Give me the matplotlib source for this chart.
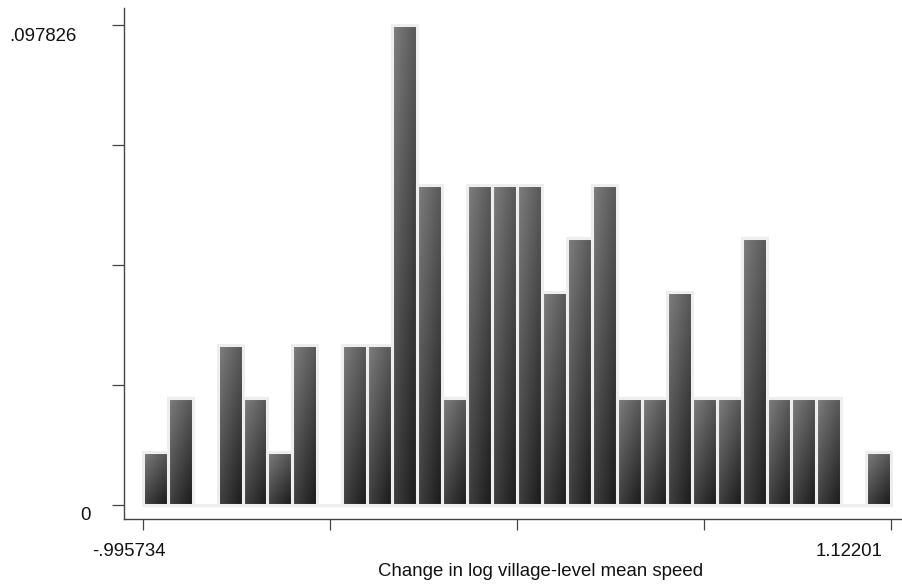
import numpy as np
import matplotlib
matplotlib.use('Agg')
import matplotlib.pyplot as plt

plt.rcParams['font.family'] = ['Liberation Sans', 'DejaVu Sans']

# histogram data (30 bins, counts out of 92 villages)
x_min = -0.995734
x_max = 1.12201
n_obs = 92
counts = [1, 2, 0, 3, 2, 1, 3, 0, 3, 3,
          9, 6, 2, 6, 6, 6, 4, 5, 6, 2,
          2, 4, 2, 2, 5, 2, 2, 2, 0, 1]
y_top_label = '.097826'
x_labels = ['-.995734', '1.12201']
x_title = 'Change in log village-level mean speed'


def gradient_fill(ax, patch, light=128, dx=40, dy=62):
    """fill one bar with a diagonal grey gradient, clipped to the bar"""
    x0, y0 = patch.get_x(), patch.get_y()
    w, h = patch.get_width(), patch.get_height()
    if h <= 0:
        return
    u = np.linspace(0, 1, 32)[None, :]
    v = np.linspace(0, 1, 128)[:, None]
    g = light - dx * u - dy * v
    im = ax.imshow(g, cmap='gray', vmin=0, vmax=255, origin='upper',
                   extent=[x0, x0 + w, y0, y0 + h], aspect='auto',
                   interpolation='bilinear', zorder=1)
    im.set_clip_path(patch)


fig = plt.figure(figsize=(9.02, 5.88), dpi=100)
ax = fig.add_axes([124 / 902, 1 - 519 / 588, 778 / 902, 511 / 588])

edges = np.linspace(x_min, x_max, len(counts) + 1)
frac = np.array(counts) / n_obs
bars = ax.bar(edges[:-1], frac, width=np.diff(edges), align='edge',
              facecolor='none', edgecolor='#eeeeee', linewidth=2.2, zorder=2)
for b in bars:
    gradient_fill(ax, b)

y_max = frac.max()
px_x = 748.6 / (x_max - x_min)
px_y = 480 / y_max
ax.set_xlim(x_min - 18.7 / px_x, x_max + 10.7 / px_x)
ax.set_ylim(-14 / px_y, y_max + 17 / px_y)

ax.set_xticks(np.linspace(x_min, x_max, 5))
ax.set_yticks(np.linspace(0, y_max, 5))
ax.set_xticklabels([])
ax.set_yticklabels([])
ax.tick_params(axis='y', direction='out', length=8.6, width=0.9, color='#444444')
ax.tick_params(axis='x', direction='out', length=8.0, width=0.9, color='#444444')

for s in ['top', 'right']:
    ax.spines[s].set_visible(False)
for s in ['left', 'bottom']:
    ax.spines[s].set_color('#444444')
    ax.spines[s].set_linewidth(1.0)

# stata-style labels, only the extremes are labelled
fs = 13.4
ax.annotate('0', xy=(0, 0), xycoords=('axes fraction', 'data'),
            xytext=(-39, -10), textcoords='offset pixels',
            ha='center', va='center', fontsize=fs, color='#111111')
ax.annotate(y_top_label, xy=(0, y_max), xycoords=('axes fraction', 'data'),
            xytext=(-81, -11), textcoords='offset pixels',
            ha='center', va='center', fontsize=fs, color='#111111')
ax.annotate(x_labels[0], xy=(x_min, 0), xycoords=('data', 'axes fraction'),
            xytext=(-14, -32), textcoords='offset pixels',
            ha='center', va='center', fontsize=fs, color='#111111')
ax.annotate(x_labels[1], xy=(x_max, 0), xycoords=('data', 'axes fraction'),
            xytext=(-42, -32), textcoords='offset pixels',
            ha='center', va='center', fontsize=fs, color='#111111')
fig.text(541 / 902, 1 - 572 / 588, x_title, ha='center', va='center',
         fontsize=fs, color='#111111')

fig.savefig('out.png', dpi=100)
